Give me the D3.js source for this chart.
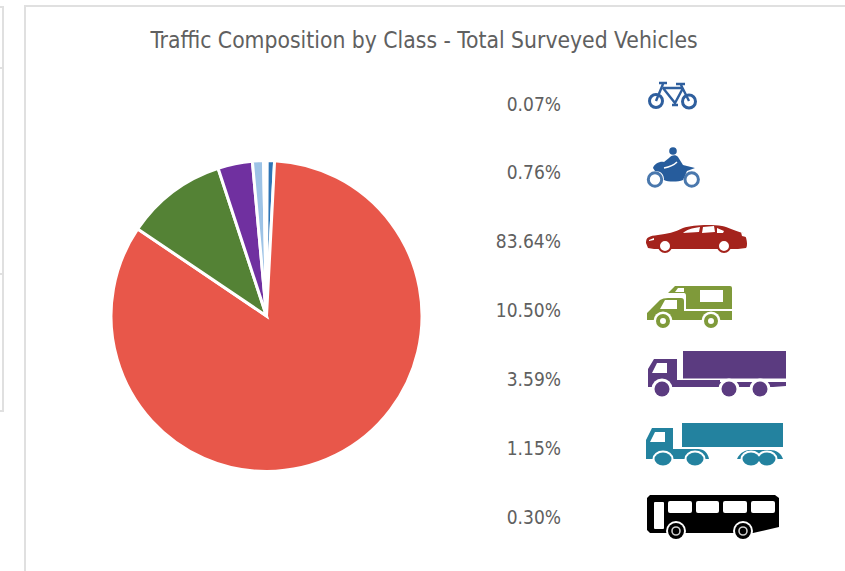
<!DOCTYPE html>
<html>
<head>
<meta charset="utf-8">
<script src="https://cdn.jsdelivr.net/npm/d3@7"></script>
<style>
body { margin: 0; background: #fff; }
text { font-family: "DejaVu Sans Condensed", "DejaVu Sans", sans-serif; font-stretch: condensed; fill: #606060; }
</style>
</head>
<body>
<div id="chart"></div>
<script>
// ---------- DATA ----------
const classes = ["Bicycle", "Motorcycle", "Car", "Light goods", "Rigid truck", "Articulated truck", "Bus"];
const shares = [0.07, 0.76, 83.64, 10.5, 3.59, 1.15, 0.3];
const shareLabels = ["0.07%", "0.76%", "83.64%", "10.50%", "3.59%", "1.15%", "0.30%"];
const sliceColors = ["#2e75b6", "#2e75b6", "#e8574a", "#548235", "#7030a0", "#9dc3e6", "#ffffff"];

const svg = d3.select("#chart").append("svg").attr("width", 845).attr("height", 571);

// frame lines of the spreadsheet
const frame = svg.append("g").attr("fill", "none").attr("stroke", "#e0e0e0").attr("stroke-width", 2);
frame.append("path").attr("d", "M845,6H25V571");
frame.append("path").attr("d", "M0,7H3V411H0M0,68H3M0,274H3");

svg.append("text")
	.attr("x", 424)
	.attr("y", 48)
	.attr("text-anchor", "middle")
	.attr("font-size", 22.7)
	.text("Traffic Composition by Class - Total Surveyed Vehicles");

// ---------- PIE ----------
const pie = d3.pie().sort(null)(shares);
const arc = d3.arc().innerRadius(0).outerRadius(155.5);

svg.append("g")
	.attr("transform", "translate(266.5,316)")
	.selectAll("path")
	.data(pie)
	.enter()
	.append("path")
	.attr("d", arc)
	.attr("fill", (d, i) => sliceColors[i])
	.attr("stroke", "#fff")
	.attr("stroke-width", 3);

// ---------- LABELS ----------
const y = d3.scalePoint().domain(classes).range([104, 517]);

svg.append("g")
	.selectAll("text")
	.data(classes)
	.enter()
	.append("text")
	.attr("x", 561)
	.attr("y", (d) => y(d) + 6.5)
	.attr("text-anchor", "end")
	.attr("font-size", 19)
	.text((d, i) => shareLabels[i]);

// ---------- ICONS ----------
const wheel = (g, cx, cy, r, sw, color) =>
	g.append("circle").attr("cx", cx).attr("cy", cy).attr("r", r)
		.attr("fill", "none").attr("stroke", color).attr("stroke-width", sw);
const halo = (g, cx, cy, r) =>
	g.append("circle").attr("cx", cx).attr("cy", cy).attr("r", r).attr("fill", "#fff");

// bicycle
const bike = svg.append("g").attr("fill", "none").attr("stroke", "#2f5f9e");
wheel(bike, 656, 101, 6.5, 3, "#2f5f9e");
wheel(bike, 689, 101.5, 6.5, 3, "#2f5f9e");
bike.append("path").attr("stroke-width", 2.4)
	.attr("d", "M656,101L663,84M659,83H667M663,88H683M681,85L689,101M683,88L675,103L663,88M672,105H678M676,84H685");

// motorcycle
const moto = svg.append("g");
wheel(moto, 655, 179.5, 6.7, 3, "#4a78ad");
wheel(moto, 691.7, 179.5, 6.7, 3, "#4a78ad");
moto.append("path").attr("fill", "#265c9c")
	.attr("d", "M653,168C654,164 660,161 664,162L669,158C671,155 676,154 678,157L683,165L695,168L687,171L683,180C678,182 668,182 664,180C664,175 662,171 655,171Z");
moto.append("circle").attr("cx", 673).attr("cy", 151).attr("r", 3.8).attr("fill", "#265c9c");
moto.append("path").attr("fill", "none").attr("stroke", "#fff").attr("stroke-width", 1.5)
	.attr("d", "M664,168C669,167 674,165 677,162");

// car
svg.append("path").attr("fill", "#a4231c").attr("fill-rule", "evenodd")
	.attr("d", "M646,243C646,237 649,236 658,235C667,234 675,232 683,228C692,225 710,224 722,226C728,227 735,231 743,233C747,236 748,246 746,248L738,249H654L648,248ZM683,233C686,230 692,228 700,227L699,232ZM703,227L714,226L715,232L702,233ZM717,228L724,231L723,233L717,233Z");
svg.append("path").attr("fill", "#fff").attr("d", "M741,232L746,234V237L742,236Z M649,240L654,238V240L649,241Z");
svg.append("g").attr("fill", "#fff").attr("stroke", "#a4231c").attr("stroke-width", 2)
	.selectAll("circle").data([665, 724]).enter().append("circle")
	.attr("cx", (d) => d).attr("cy", 246).attr("r", 6);

// camper
const camper = svg.append("g").attr("fill", "#7f9a3a");
camper.append("path").attr("fill-rule", "evenodd")
	.attr("d", "M668,293L675,286H730Q732,286 732,288V309H686V296Q686,293 684,293ZM700,290V302H723V290Z");
camper.append("path").attr("fill", "#fff").attr("d", "M675,292L678,288H684V292Z");
camper.append("path").attr("fill-rule", "evenodd")
	.attr("d", "M647,320V313L652,308L660,300Q663,298 668,298H681Q684,298 684,301V311H732V320ZM660,309L665,300H677V309Z");
[663, 711].forEach((cx) => {
	halo(camper, cx, 321, 9.5);
	wheel(camper, cx, 321, 5, 4, "#7f9a3a");
});

// rigid truck
const rigid = svg.append("g").attr("fill", "#5b3b80");
rigid.append("rect").attr("x", 683).attr("y", 351).attr("width", 103).attr("height", 27.5);
rigid.append("path").attr("fill-rule", "evenodd")
	.attr("d", "M648,387V369L654,359H677V380H720V382H786V386L773,387H677ZM652,373H667V363H657Z");
[662, 729, 760].forEach((cx) => {
	halo(rigid, cx, 389, 10.5);
	rigid.append("circle").attr("cx", cx).attr("cy", 389).attr("r", 7.5);
});

// articulated truck
const artic = svg.append("g").attr("fill", "#23829f");
artic.append("rect").attr("x", 682).attr("y", 423).attr("width", 101).attr("height", 24);
artic.append("path").attr("fill-rule", "evenodd")
	.attr("d", "M646,459V440L652,428H673V449H698C704,449 708,453 709,459H646ZM650,442H665V432H655Z");
artic.append("path").attr("d", "M737,459C740,452 746,450 750,450H770C776,450 781,453 783,459Z");
[663, 695, 751, 767].forEach((cx) => {
	artic.append("ellipse").attr("cx", cx).attr("cy", 459).attr("rx", 10.5).attr("ry", 8.5).attr("fill", "#fff");
});
[663, 695, 751, 767].forEach((cx) => {
	artic.append("ellipse").attr("cx", cx).attr("cy", 459).attr("rx", 8.5).attr("ry", 6.5);
});

// bus
const bus = svg.append("g");
bus.append("path").attr("fill", "#000")
	.attr("d", "M650,495H775L779,498V527L753,533H650L647,530V498Z");
bus.append("g").attr("fill", "#fff").selectAll("rect")
	.data([[668, 24], [696, 23], [723, 24], [751, 24]]).enter().append("rect")
	.attr("x", (d) => d[0]).attr("y", 501).attr("width", (d) => d[1]).attr("height", 12).attr("rx", 2);
bus.append("rect").attr("fill", "#fff").attr("x", 654).attr("y", 502).attr("width", 10).attr("height", 27).attr("rx", 1);
[676, 743].forEach((cx) => {
	halo(bus, cx, 531, 10);
	bus.append("circle").attr("cx", cx).attr("cy", 531).attr("r", 8).attr("fill", "#000");
	wheel(bus, cx, 531, 4, 1.6, "#ccc");
});
</script>
</body>
</html>
